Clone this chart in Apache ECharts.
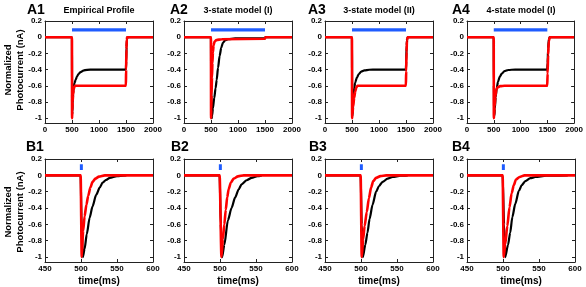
<!DOCTYPE html>
<html><head><meta charset="utf-8">
<script src="https://cdn.jsdelivr.net/npm/echarts@6/dist/echarts.min.js"></script>
<style>html,body{margin:0;padding:0;background:#fff}#c{width:586px;height:287px}</style>
</head><body><div id="c"></div>
<script>
// ---- text ----
const panelLabelsA = ['A1', 'A2', 'A3', 'A4'];
const panelLabelsB = ['B1', 'B2', 'B3', 'B4'];
const panelTitles = ['Empirical Profile', '3-state model (I)', '3-state model (II)', '4-state model (I)'];
const yNameLine1 = 'Normalized';
const yNameLine2 = 'Photocurrent (nA)';
const xNameB = 'time(ms)';
// ---- ticks ----
const yTickValues = [0.2, 0, -0.2, -0.4, -0.6, -0.8, -1];
const xTicksA = [0, 500, 1000, 1500, 2000];
const xTicksB = [450, 500, 550, 600];
// ---- data: [time (ms), normalized current] ----
const a1Black = [[0,0],[499,0],[501,-0.7],[503,-0.95],[507,-0.92],[512,-0.82],[520,-0.7],[530,-0.63],[545,-0.57],[565,-0.53],[590,-0.49],[620,-0.455],[660,-0.43],[710,-0.412],[780,-0.403],[900,-0.4],[1498,-0.4],[1503,-0.3],[1510,-0.12],[1518,-0.03],[1528,0],[2000,0]];
const a1Red = [[0,0],[499,0],[501,-1],[505,-0.92],[512,-0.8],[520,-0.71],[530,-0.65],[542,-0.615],[560,-0.6],[1498,-0.6],[1502,-0.4],[1508,-0.15],[1514,-0.03],[1520,0],[2000,0]];
const a2Black = [[0,0],[499,0],[504,-0.6],[510,-0.98],[514,-1],[520,-0.97],[535,-0.88],[560,-0.75],[585,-0.63],[605,-0.53],[630,-0.38],[660,-0.23],[690,-0.13],[720,-0.07],[760,-0.04],[820,-0.025],[950,-0.015],[1498,-0.015],[1510,0],[2000,0]];
const a2Red = [[0,0],[499,0],[501,-1],[505,-0.9],[510,-0.72],[518,-0.5],[526,-0.32],[535,-0.19],[548,-0.1],[565,-0.055],[600,-0.035],[700,-0.025],[1498,-0.02],[1508,0],[2000,0]];
const a3Black = [[0,0],[499,0],[502,-0.6],[505,-0.95],[509,-0.97],[515,-0.88],[525,-0.74],[540,-0.63],[560,-0.56],[590,-0.5],[625,-0.455],[670,-0.425],[730,-0.41],[820,-0.402],[950,-0.4],[1498,-0.4],[1503,-0.3],[1512,-0.1],[1522,-0.02],[1535,0],[2000,0]];
const a3Red = [[0,0],[499,0],[502,-1],[507,-0.96],[520,-0.86],[540,-0.75],[560,-0.67],[580,-0.62],[600,-0.6],[1498,-0.6],[1503,-0.42],[1510,-0.18],[1518,-0.04],[1528,0],[2000,0]];
const a4Black = [[0,0],[499,0],[502,-0.6],[506,-0.95],[511,-0.97],[520,-0.88],[535,-0.74],[555,-0.63],[580,-0.55],[610,-0.49],[650,-0.45],[700,-0.42],[770,-0.405],[900,-0.4],[1498,-0.4],[1505,-0.32],[1515,-0.14],[1527,-0.03],[1545,0],[2000,0]];
const a4Red = [[0,0],[499,0],[501,-1],[506,-0.97],[515,-0.86],[530,-0.73],[548,-0.65],[570,-0.62],[620,-0.605],[700,-0.6],[1498,-0.6],[1505,-0.45],[1515,-0.22],[1528,-0.05],[1545,0],[2000,0]];
const b1Black = [[450,0],[499.5,0],[501,-0.7],[502.5,-1],[505,-0.9],[508,-0.72],[512,-0.52],[516,-0.38],[521,-0.24],[526,-0.15],[530,-0.09],[535,-0.055],[540,-0.03],[550,-0.01],[563,0]];
const b1Red = [[450,0],[499.5,0],[501,-1],[503,-0.68],[505,-0.5],[507.5,-0.36],[510,-0.25],[513,-0.15],[516,-0.08],[520,-0.04],[525,-0.015],[533,0],[600,0]];
const b2Black = [[450,0],[499.5,0],[501,-0.6],[503,-1],[506,-0.85],[511,-0.55],[516,-0.4],[521,-0.27],[526,-0.17],[530,-0.11],[537,-0.06],[544,-0.03],[552,-0.01],[558,0]];
const b2Red = [[450,0],[499.5,0],[502,-1],[504,-0.78],[506,-0.6],[508,-0.42],[510,-0.27],[512,-0.17],[515,-0.09],[519,-0.04],[525,-0.012],[533,0],[600,0]];
const b3Black = [[450,0],[499.5,0],[501,-0.6],[502.5,-1],[506,-0.85],[509,-0.7],[512,-0.53],[516,-0.36],[521,-0.2],[525,-0.13],[530,-0.08],[537,-0.04],[544,-0.02],[555,-0.005],[565,0]];
const b3Red = [[450,0],[499.5,0],[501,-1],[503,-0.78],[505,-0.62],[508,-0.45],[511,-0.28],[514,-0.15],[517,-0.07],[521,-0.03],[527,-0.01],[535,0],[600,0]];
const b4Black = [[450,0],[499.5,0],[501.5,-0.6],[503,-1],[507,-0.85],[510,-0.7],[513,-0.51],[517,-0.35],[522,-0.19],[526,-0.12],[531,-0.07],[538,-0.035],[545,-0.02],[560,-0.005],[590,0]];
const b4Red = [[450,0],[499.5,0],[501,-1],[503,-0.85],[506,-0.62],[509,-0.39],[512,-0.22],[515,-0.12],[518,-0.05],[523,-0.02],[530,0],[600,0]];
const lightBarA = [[500,0.09],[1500,0.09]];
const pulseB = [[500.5,0.065],[500.5,0.135]];

const blackSets = [a1Black, a2Black, a3Black, a4Black, b1Black, b2Black, b3Black, b4Black];
const redSets = [a1Red, a2Red, a3Red, a4Red, b1Red, b2Red, b3Red, b4Red];

// ---- layout ----
const FONT = '"Liberation Sans", Arial, sans-serif';
const colLeft = [45, 184, 325, 467];
const colWidth = 108;
const rowTop = [21, 159];
const rowHeight = [102, 103];
const AXC = '#222';

const grids = [], xAxes = [], yAxes = [], series = [];
function fmtY(v) { const r = Math.round(v * 10) / 10; return r === 0 ? '0' : String(r); }
function fmtX(v) { return String(Math.round(v)); }
for (let p = 0; p < 8; p++) {
  const row = p < 4 ? 0 : 1, col = p % 4;
  grids.push({ left: colLeft[col], top: rowTop[row], width: colWidth, height: rowHeight[row], show: false });
  const xt = row === 0 ? xTicksA : xTicksB;
  const xBase = {
    type: 'value', gridIndex: p, min: xt[0], max: xt[xt.length - 1], interval: xt[1] - xt[0],
    axisLine: { show: true, onZero: false, lineStyle: { color: AXC, width: 1 } },
    axisTick: { show: true, inside: true, length: 3, lineStyle: { color: AXC } },
    splitLine: { show: false }
  };
  xAxes.push(Object.assign({}, xBase, {
    position: 'bottom',
    axisLabel: { show: true, formatter: fmtX, fontSize: 8, fontWeight: 'bold', color: '#000', fontFamily: FONT, margin: 3, showMinLabel: true, showMaxLabel: true },
    name: row === 1 ? xNameB : '', nameLocation: 'middle', nameGap: 14,
    nameTextStyle: { fontSize: 10, fontWeight: 'bold', color: '#000', fontFamily: FONT }
  }));
  xAxes.push(Object.assign({}, xBase, { position: 'top', axisLabel: { show: false } }));
  const yBase = {
    type: 'value', gridIndex: p, min: -1.06, max: 0.2,
    axisLine: { show: true, onZero: false, lineStyle: { color: AXC, width: 1 } },
    axisTick: { show: true, inside: true, length: 3, lineStyle: { color: AXC }, customValues: yTickValues },
    splitLine: { show: false }
  };
  yAxes.push(Object.assign({}, yBase, {
    position: 'left',
    axisLabel: { show: true, customValues: yTickValues, formatter: fmtY, fontSize: 8, fontWeight: 'bold', color: '#000', fontFamily: FONT, margin: 3 }
  }));
  yAxes.push(Object.assign({}, yBase, { position: 'right', axisLabel: { show: false } }));
  series.push({ type: 'line', xAxisIndex: 2 * p, yAxisIndex: 2 * p, data: blackSets[p], showSymbol: false, smooth: 0.25, smoothMonotone: 'x',
    lineStyle: { color: '#000', width: 2.2 }, z: 2, silent: true });
  series.push({ type: 'line', xAxisIndex: 2 * p, yAxisIndex: 2 * p, data: redSets[p], showSymbol: false, smooth: 0.25, smoothMonotone: 'x',
    lineStyle: { color: '#ff0000', width: 2.6 }, z: 3, silent: true });
  series.push({ type: 'line', xAxisIndex: 2 * p, yAxisIndex: 2 * p, data: row === 0 ? lightBarA : pulseB, showSymbol: false,
    lineStyle: { color: '#1f5cff', width: row === 0 ? 3.4 : 3, cap: 'butt' }, z: 4, silent: true });
}

const graphic = [];
const aLabelX = [27, 170, 308, 452];
const bLabelX = [26, 171, 309, 452];
for (let c = 0; c < 4; c++) {
  graphic.push({ type: 'text', left: aLabelX[c], top: 3, style: { text: panelLabelsA[c], font: 'bold 14px ' + FONT, fill: '#000' } });
  graphic.push({ type: 'text', x: colLeft[c] + colWidth / 2, y: 11, style: { text: panelTitles[c], font: 'bold 9px ' + FONT, fill: '#000', align: 'center', verticalAlign: 'middle' } });
  graphic.push({ type: 'text', left: bLabelX[c], top: 140, style: { text: panelLabelsB[c], font: 'bold 14px ' + FONT, fill: '#000' } });
}
[70, 212].forEach(function (cy) {
  graphic.push({ type: 'text', x: 8, y: cy, rotation: Math.PI / 2, style: { text: yNameLine1, font: 'bold 9.5px ' + FONT, fill: '#000', align: 'center', verticalAlign: 'middle' } });
  graphic.push({ type: 'text', x: 20, y: cy, rotation: Math.PI / 2, style: { text: yNameLine2, font: 'bold 9.5px ' + FONT, fill: '#000', align: 'center', verticalAlign: 'middle' } });
});

const chart = echarts.init(document.getElementById('c'), null, { renderer: 'canvas' });
chart.setOption({ animation: false, backgroundColor: '#fff', grid: grids, xAxis: xAxes, yAxis: yAxes, series: series, graphic: graphic });
</script></body></html>
